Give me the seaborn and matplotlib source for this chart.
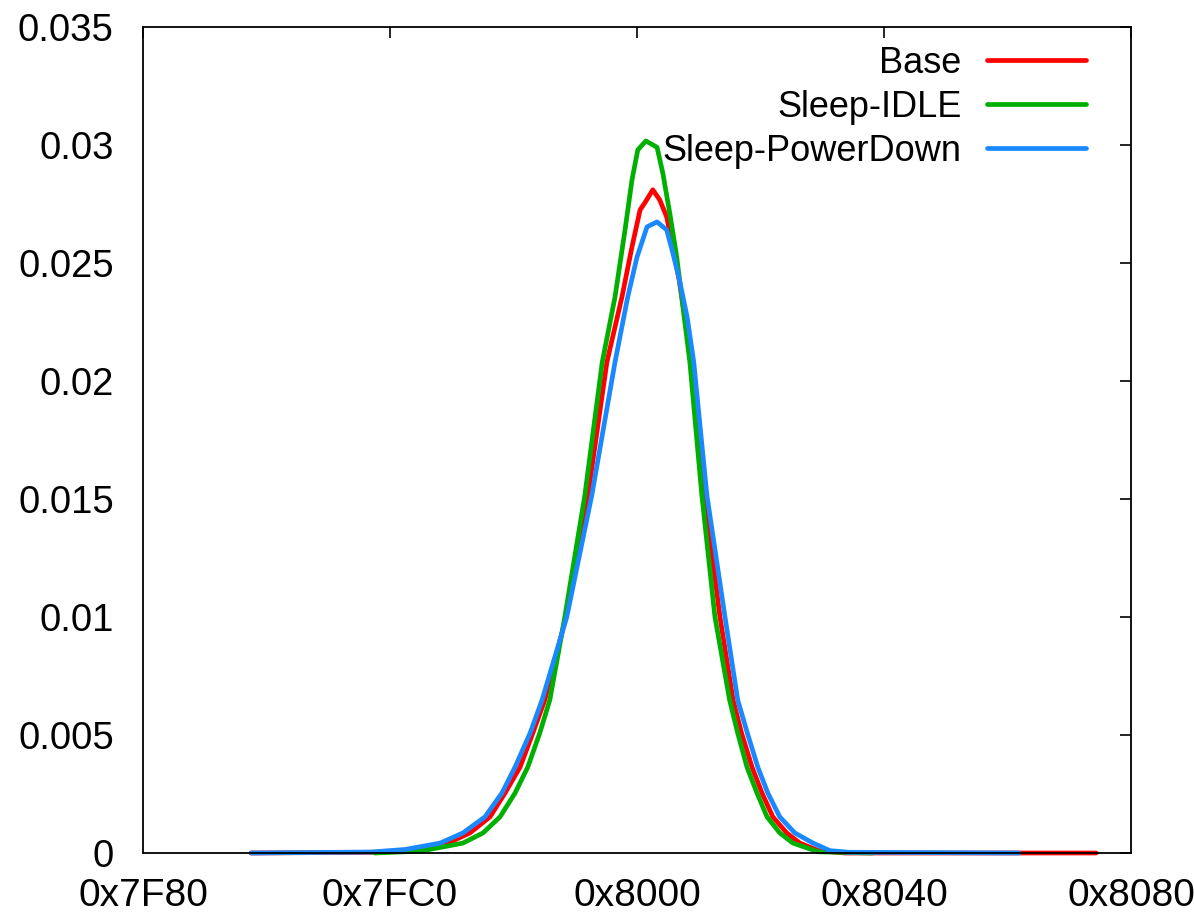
import matplotlib
matplotlib.use("Agg")
import matplotlib.pyplot as plt
import seaborn as sns
import pandas as pd
from matplotlib.ticker import FixedLocator, FuncFormatter

# ---- data ----
base_x = [32668, 32700, 32710, 32719, 32724.7, 32729.9, 32733.8, 32737.7, 32741.0, 32744.1,
          32749.6, 32755.3, 32760.2, 32764.1, 32766.7, 32768.8, 32770.0, 32772.1, 32773.9,
          32775.7, 32778.9, 32782.2, 32785.5, 32789.5, 32792.9, 32795.1, 32797.8, 32800.4,
          32803.2, 32806.8, 32810.2, 32815, 32822, 32887]
base_y = [0, 0.00003, 0.00012, 0.00042, 0.00085, 0.00153, 0.00254, 0.00364, 0.00508, 0.00648,
          0.0100, 0.01517, 0.0208, 0.02356, 0.02568, 0.02725, 0.02754, 0.0281, 0.02767,
          0.02695, 0.0243, 0.0208, 0.01517, 0.0100, 0.00648, 0.00508, 0.00364, 0.00254,
          0.00153, 0.00085, 0.00042, 0.0001, 0, 0]

idle_x = [32700, 32712, 32722.9, 32728.1, 32732.5, 32736.4, 32739.7, 32742.8, 32745.4, 32749.3,
          32754.5, 32759.0, 32762.3, 32764.9, 32766.7, 32768.2, 32770.3, 32773.2, 32774.7,
          32776.5, 32778.3, 32779.9, 32781.7, 32784.8, 32788.2, 32792.0, 32794.1, 32796.5,
          32799.1, 32801.7, 32805.0, 32808.4, 32815, 32829]
idle_y = [0, 0.00008, 0.00042, 0.00085, 0.00153, 0.00254, 0.00364, 0.00508, 0.00648, 0.0100,
          0.01517, 0.0208, 0.02356, 0.0264, 0.02852, 0.02979, 0.03017, 0.0299, 0.0288,
          0.0271, 0.02525, 0.02314, 0.0208, 0.01517, 0.0100, 0.00648, 0.00508, 0.00364,
          0.00254, 0.00153, 0.00085, 0.00042, 0.00005, 0]

pd_x = [32668, 32699, 32708, 32717.0, 32722.9, 32728.6, 32733.0, 32736.4, 32740.3, 32743.4,
        32749.8, 32756.3, 32762.3, 32765.6, 32768.0, 32770.6, 32773.2, 32775.7, 32777.3,
        32779.0, 32781.0, 32782.7, 32786.1, 32790.8, 32794.1, 32796.6, 32799.3, 32801.9,
        32805.0, 32808.9, 32813.6, 32818, 32823, 32867]
pd_y = [0, 0.00004, 0.00015, 0.00042, 0.00085, 0.00153, 0.00254, 0.00364, 0.00508, 0.00648,
        0.0100, 0.01517, 0.0208, 0.02356, 0.02525, 0.02653, 0.02674, 0.0264, 0.02542,
        0.02428, 0.0227, 0.0208, 0.01517, 0.0100, 0.00648, 0.00508, 0.00364, 0.00254,
        0.00153, 0.00085, 0.00042, 0.0001, 0.00003, 0]

series_names = ["Base", "Sleep-IDLE", "Sleep-PowerDown"]
series_colors = ["#ff0000", "#00b000", "#1a88ff"]
x_ticks = [0x7F80, 0x7FC0, 0x8000, 0x8040, 0x8080]
y_ticks = [0, 0.005, 0.01, 0.015, 0.02, 0.025, 0.03, 0.035]

frames = []
for name, xs, ys in zip(series_names, [base_x, idle_x, pd_x], [base_y, idle_y, pd_y]):
    frames.append(pd.DataFrame({"x": xs, "y": ys, "series": name}))
df = pd.concat(frames, ignore_index=True)

sns.set_theme(style="white")
plt.rcParams["font.family"] = ["Liberation Sans", "DejaVu Sans"]
plt.rcParams["text.color"] = "black"

fig = plt.figure(figsize=(11.94, 9.17), dpi=100)
ax = fig.add_axes([0.1198, 0.0698, 0.8274, 0.9008])

sns.lineplot(data=df, x="x", y="y", hue="series", hue_order=series_names,
             palette=dict(zip(series_names, series_colors)), estimator=None,
             sort=False, linewidth=3.4, ax=ax, legend=False)
for ln in ax.lines:
    ln.set_clip_on(False)

ax.set_xlim(0x7F80, 0x8080)
ax.set_ylim(0, 0.035)
ax.xaxis.set_major_locator(FixedLocator(x_ticks))
ax.xaxis.set_major_formatter(FuncFormatter(lambda v, p: "0x%X" % int(round(v))))
ax.yaxis.set_major_locator(FixedLocator(y_ticks))
ax.yaxis.set_major_formatter(FuncFormatter(lambda v, p: ("%g" % v)))
ax.set_xlabel("")
ax.set_ylabel("")
ax.tick_params(direction="in", length=8, width=1.2, top=True, right=True,
               colors="black")
ax.tick_params(axis="y", labelsize=27.5, pad=21)
ax.tick_params(axis="x", labelsize=28, pad=18)
for s in ax.spines.values():
    s.set_color("black")
    s.set_linewidth(1.3)
    s.set_visible(True)

handles = [plt.Line2D([], [], color=c, linewidth=3.4) for c in series_colors]
leg = ax.legend(handles, series_names, loc="upper right", frameon=False,
                markerfirst=False, fontsize=26, handlelength=2.75,
                handletextpad=0.7, labelspacing=0.25, borderaxespad=0.0,
                bbox_to_anchor=(0.969, 0.995))
for t in leg.get_texts():
    t.set_color("black")

fig.savefig("out.png", dpi=100, facecolor="white")
